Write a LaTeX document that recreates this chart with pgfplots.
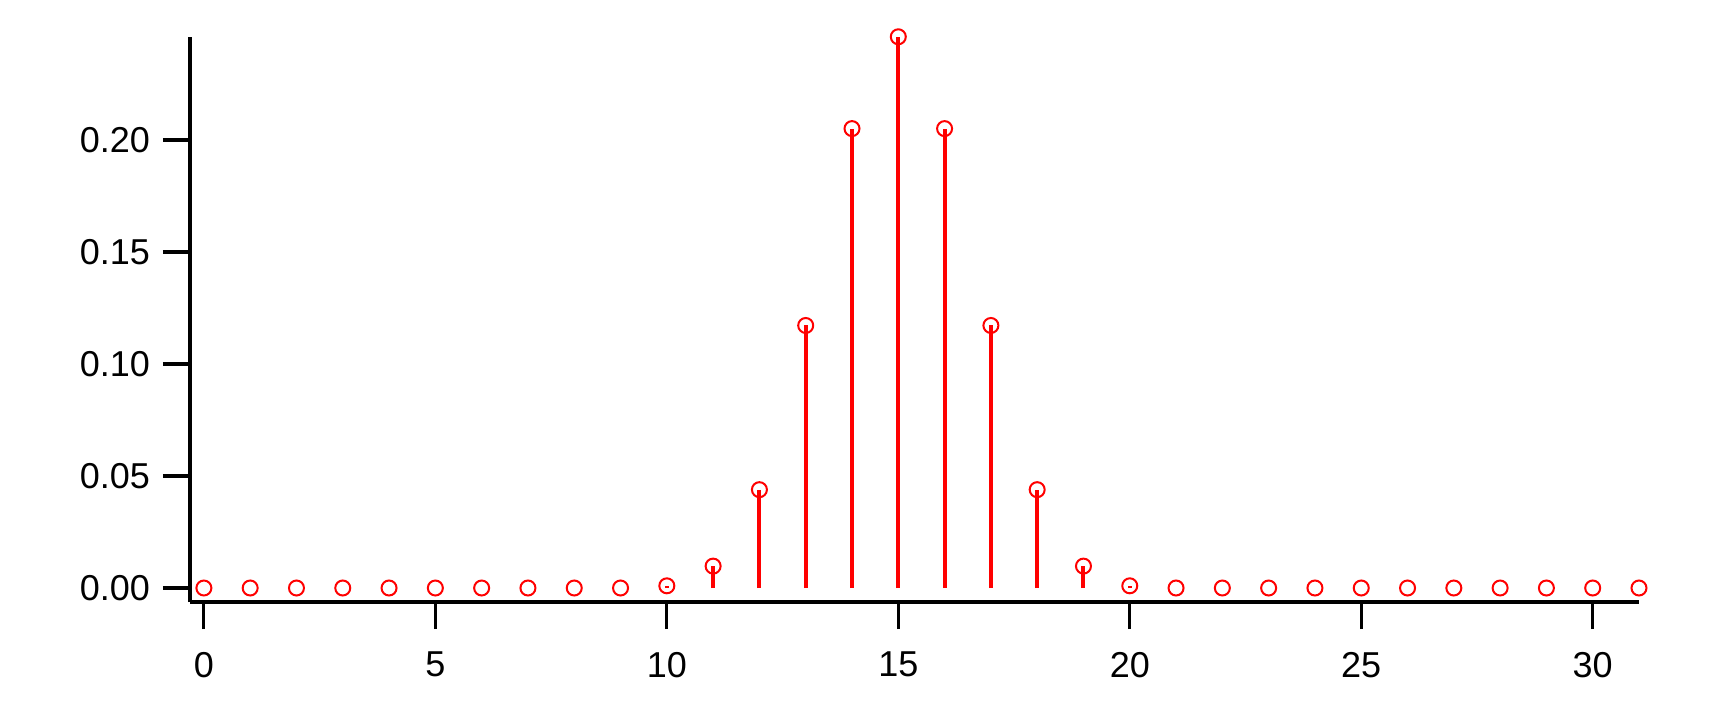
\documentclass[border=0pt]{standalone}
\usepackage{fontspec}
\setmainfont{Liberation Sans}
\usepackage{pgfplots}
\pgfplotsset{compat=1.18}
\definecolor{stemred}{HTML}{FF0000}

\begin{document}
\begin{tikzpicture}
\begin{axis}[
    scale only axis,
    width=724.5pt,
    height=282.5pt,
    xmin=-0.3, xmax=31,
    ymin=-0.00625, ymax=0.246,
    axis lines=left,
    axis line style={-, line width=1.7pt},
    every tick/.style={black, line width=1.6pt},
    tick align=outside,
    major tick length=13.5pt,
    xtick={0,5,...,30},
    ytick={0,0.05,0.10,0.15,0.20},
    yticklabel style={xshift=-3pt, /pgf/number format/.cd, fixed, fixed zerofill, precision=2},
    /pgf/number format/assume math mode=true,
    tick label style={font=\fontsize{18}{22}\selectfont},
    xticklabel style={yshift=-8pt},
    clip=false,
]
\addplot[ycomb, color=stemred, line width=2pt,
    mark=o, mark size=3.75pt, mark options={line width=1pt, fill=none}]
    coordinates {
        (0,0) (1,0) (2,0) (3,0) (4,0) (5,0) (6,0) (7,0) (8,0) (9,0)
        (10,0.000977) (11,0.00977) (12,0.0439) (13,0.1172) (14,0.2051)
        (15,0.2461) (16,0.2051) (17,0.1172) (18,0.0439) (19,0.00977)
        (20,0.000977)
        (21,0) (22,0) (23,0) (24,0) (25,0) (26,0) (27,0) (28,0) (29,0) (30,0) (31,0)
    };
\path (rel axis cs:0,0) ++(-95pt,-60.5pt) coordinate (bl);
\path (rel axis cs:1,1) ++(46pt,18.5pt) coordinate (tr);
\end{axis}
\useasboundingbox (bl) rectangle (tr);
\end{tikzpicture}
\end{document}
